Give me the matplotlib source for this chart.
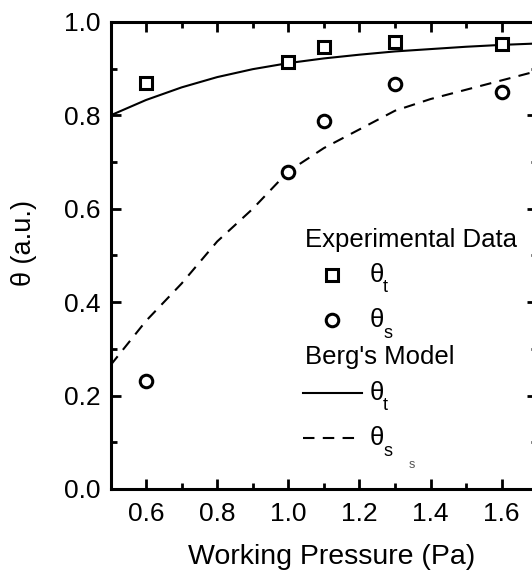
import matplotlib
matplotlib.use("Agg")
import matplotlib.pyplot as plt
from matplotlib.ticker import MultipleLocator

plt.rcParams['font.family'] = ['Liberation Sans', 'DejaVu Sans']

# Measured data
pressure_exp = [0.6, 1.0, 1.1, 1.3, 1.6]
theta_t_exp = [0.869, 0.914, 0.946, 0.958, 0.953]
theta_s_exp = [0.231, 0.679, 0.788, 0.868, 0.851]

# Berg's model curves
pressure_model = [0.5, 0.6, 0.7, 0.8, 0.9, 1.0, 1.1, 1.2, 1.3, 1.4, 1.5, 1.6, 1.7]
theta_t_model = [0.800, 0.833, 0.860, 0.882, 0.899, 0.912, 0.922, 0.930,
                 0.937, 0.942, 0.947, 0.951, 0.954]
theta_s_model = [0.265, 0.360, 0.440, 0.530, 0.600, 0.680, 0.730, 0.770,
                 0.810, 0.835, 0.855, 0.875, 0.895]

x_ticks = [0.6, 0.8, 1.0, 1.2, 1.4, 1.6]
y_ticks = [0.0, 0.2, 0.4, 0.6, 0.8, 1.0]

W, H = 532, 577
fig = plt.figure(figsize=(W / 100, H / 100), dpi=100)

def fx(px):
    return px / W

def fy(py):
    return 1 - py / H

left, right, top, bottom = 110.5, 537.2, 22.0, 489.0
ax = fig.add_axes([fx(left), fy(bottom), (right - left) / W, (bottom - top) / H])

FS_TICK = 19
FS_XLABEL = 20.5
FS_YLABEL = 19.5
FS_LEG = 18.5
FS_SUB = 13
LW_SPINE = 2.2
DASH = (0, (5.5, 4))

ax.plot(pressure_model, theta_t_model, color='black', lw=1.5, ls='-', zorder=2)
ax.plot(pressure_model, theta_s_model, color='black', lw=1.5, ls=DASH, zorder=2)
ax.plot(pressure_exp, theta_t_exp, ls='none', marker='s', ms=8.5, mew=2.2,
        mfc='white', mec='black', zorder=3)
ax.plot(pressure_exp, theta_s_exp, ls='none', marker='o', ms=9, mew=2.2,
        mfc='white', mec='black', zorder=3)

ax.set_xlim(0.5, 1.7)
ax.set_ylim(0.0, 1.0)
ax.set_xticks(x_ticks)
ax.set_xticklabels([f"{v:.1f}" for v in x_ticks])
ax.set_yticks(y_ticks)
ax.set_yticklabels([f"{v:.1f}" for v in y_ticks])
ax.xaxis.set_minor_locator(MultipleLocator(0.1))
ax.yaxis.set_minor_locator(MultipleLocator(0.1))

for s in ax.spines.values():
    s.set_linewidth(LW_SPINE)

ax.tick_params(which='both', direction='in', top=True, right=True, width=2.0)
ax.tick_params(which='major', length=7, labelsize=FS_TICK)
ax.tick_params(which='minor', length=4)
ax.tick_params(axis='x', which='major', pad=9.5)
ax.tick_params(axis='y', which='major', pad=7)

ax.set_xlabel('Working Pressure (Pa)', fontsize=FS_XLABEL)
ax.xaxis.set_label_coords(0.519, -0.117)
ax.set_ylabel('θ (a.u.)', fontsize=FS_YLABEL)
ax.yaxis.set_label_coords(-0.173, 0.527)

# Legend, drawn as a grouped key
def sym_label(px, py, sub):
    fig.text(fx(px), fy(py), 'θ', fontsize=FS_LEG, ha='left', va='center')
    fig.text(fx(px + 13), fy(py + 13), sub, fontsize=FS_SUB, ha='left', va='center')

fig.text(fx(305), fy(240), 'Experimental Data', fontsize=FS_LEG, ha='left', va='center')
fig.add_artist(plt.Line2D([fx(332)], [fy(275)], ls='none', marker='s', ms=8.5, mew=2.2,
                          mfc='white', mec='black'))
sym_label(370, 275, 't')
fig.add_artist(plt.Line2D([fx(332)], [fy(320)], ls='none', marker='o', ms=9, mew=2.2,
                          mfc='white', mec='black'))
sym_label(370, 320, 's')
fig.text(fx(305), fy(357), "Berg's Model", fontsize=FS_LEG, ha='left', va='center')
fig.add_artist(plt.Line2D([fx(303), fx(362)], [fy(393), fy(393)], color='black', lw=1.5))
sym_label(370, 393, 't')
fig.add_artist(plt.Line2D([fx(303), fx(362)], [fy(438), fy(438)], color='black', lw=1.5,
                          ls=DASH))
sym_label(370, 438, 's')
fig.text(fx(412), fy(465), 's', fontsize=9, color='#555555', ha='center', va='center')

fig.savefig('out.png', dpi=100)
